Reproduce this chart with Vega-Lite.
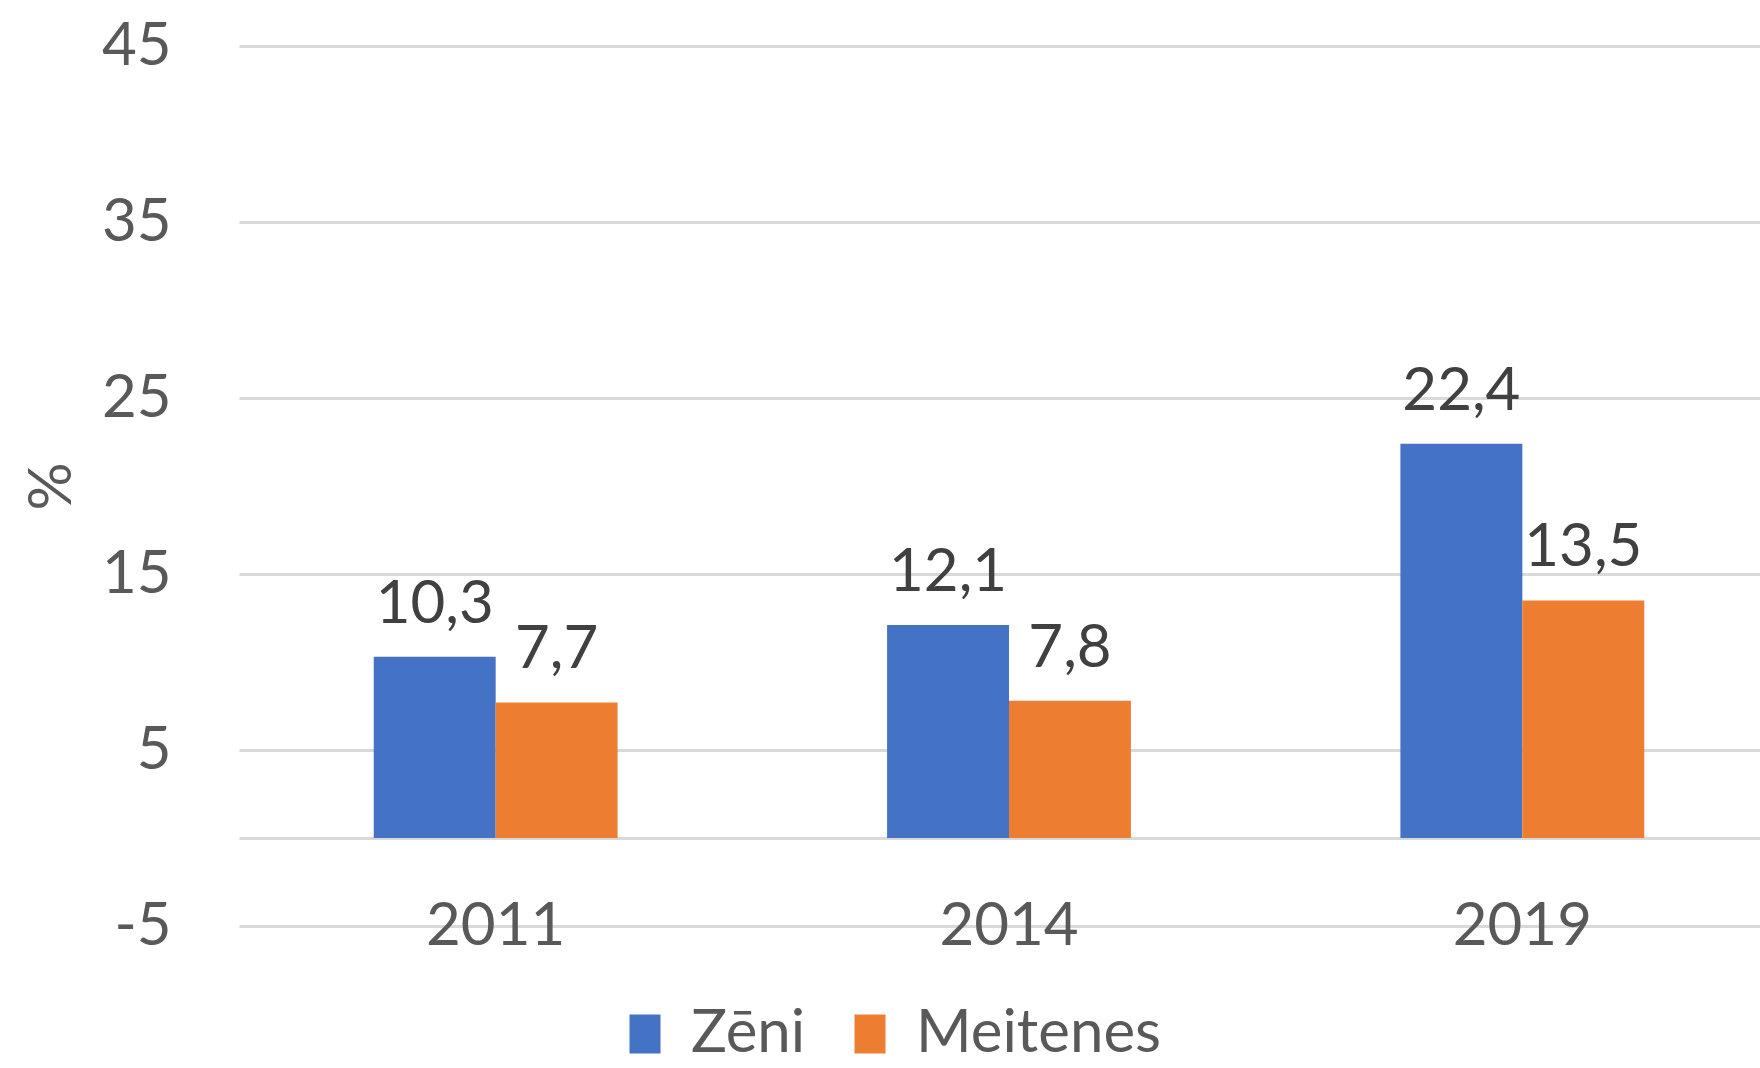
{
  "$schema": "https://vega.github.io/schema/vega-lite/v6.json",
  "autosize": {"type": "none"},
  "padding": {"left": 239, "top": 46, "right": 0, "bottom": 142},
  "width": 1540,
  "height": 880,
  "background": "white",
  "config": {
    "locale": {"number": {"decimal": ",", "thousands": " ", "grouping": [3], "currency": ["", " €"], "minus": "-"}},
    "view": {"stroke": null},
    "font": "Lato"
  },
  "data": {
    "values": [
      {"year": "2011", "sex": "Zēni", "value": 10.3},
      {"year": "2011", "sex": "Meitenes", "value": 7.7},
      {"year": "2014", "sex": "Zēni", "value": 12.1},
      {"year": "2014", "sex": "Meitenes", "value": 7.8},
      {"year": "2019", "sex": "Zēni", "value": 22.4},
      {"year": "2019", "sex": "Meitenes", "value": 13.5}
    ]
  },
  "encoding": {
    "x": {
      "field": "year",
      "type": "nominal",
      "scale": {"paddingInner": 0.525, "paddingOuter": 0.2625},
      "axis": {
        "title": null,
        "labelAngle": 0,
        "labelBaseline": "middle",
        "labelPadding": 0,
        "ticks": false,
        "tickSize": 0,
        "domain": false,
        "labelFontSize": 60,
        "labelColor": "#595959",
        "zindex": 1
      }
    },
    "xOffset": {"field": "sex", "type": "nominal", "sort": ["Zēni", "Meitenes"]},
    "y": {
      "field": "value",
      "type": "quantitative",
      "scale": {"domain": [-5, 45], "nice": false},
      "axis": {
        "values": [-5, 0, 5, 15, 25, 35, 45],
        "labelExpr": "datum.value == 0 ? '' : datum.label",
        "domain": false,
        "ticks": false,
        "tickSize": 0,
        "labelPadding": 68,
        "labelFontSize": 60,
        "labelColor": "#595959",
        "gridColor": "#D9D9D9",
        "gridWidth": 3,
        "title": "%",
        "titleFontSize": 60,
        "titleFontWeight": "normal",
        "titleColor": "#595959",
        "titlePadding": 18
      }
    }
  },
  "layer": [
    {
      "mark": {"type": "bar"},
      "encoding": {
        "color": {
          "field": "sex",
          "type": "nominal",
          "scale": {"domain": ["Zēni", "Meitenes"], "range": ["#4472C4", "#ED7D31"]},
          "legend": {
            "orient": "none",
            "legendX": 376,
            "legendY": 958,
            "direction": "horizontal",
            "title": null,
            "labelFontSize": 60,
            "labelColor": "#595959",
            "labelLimit": 0,
            "symbolType": "M-1,-1.26H1V1.26H-1Z",
            "symbolSize": 961,
            "symbolStrokeWidth": 0,
            "symbolOpacity": 1,
            "labelOffset": 16,
            "columnPadding": 34,
            "padding": 0
          }
        }
      }
    },
    {
      "mark": {"type": "text", "baseline": "alphabetic", "dy": -34, "fontSize": 60, "color": "#404040"},
      "encoding": {
        "text": {"field": "value", "type": "quantitative", "format": ".1f"}
      }
    }
  ]
}
